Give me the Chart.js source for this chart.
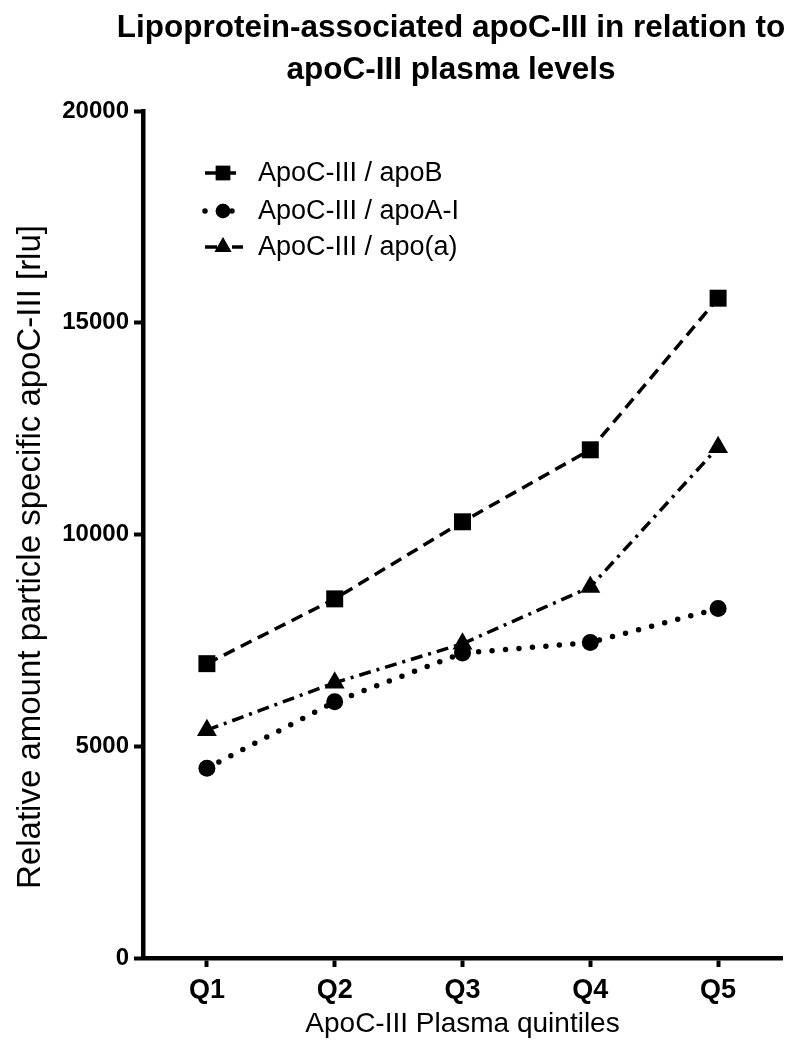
<!DOCTYPE html>
<html><head><meta charset="utf-8">
<script src="https://cdn.jsdelivr.net/npm/chart.js@4.4.0/dist/chart.umd.min.js"></script>
<style>html,body{margin:0;padding:0;background:#fff}#wrap{width:800px;height:1061px;position:relative}</style>
</head><body><div id="wrap"><canvas id="c"></canvas></div>
<script>
const categories = ['Q1', 'Q2', 'Q3', 'Q4', 'Q5'];
const apoB = [6950, 8480, 10300, 12000, 15580];
const apoAI = [4480, 6050, 7200, 7450, 8250];
const apoa = [5380, 6500, 7420, 8760, 12060];
const seriesNames = ['ApoC-III / apoB', 'ApoC-III / apoA-I', 'ApoC-III / apo(a)'];
const yTicks = [0, 5000, 10000, 15000, 20000];
const titleLines = ['Lipoprotein-associated apoC-III in relation to', 'apoC-III plasma levels'];
const xTitle = 'ApoC-III Plasma quintiles';
const yTitle = 'Relative amount particle specific apoC-III [rlu]';

const FAM = "'Liberation Sans', Arial, Helvetica, sans-serif";
Chart.defaults.font.family = FAM;
Chart.defaults.color = '#000';

const textPlugin = {
  id: 'texts',
  afterDraw(chart) {
    const ctx = chart.ctx;
    ctx.save();
    ctx.fillStyle = '#000';
    ctx.textAlign = 'center';
    ctx.textBaseline = 'middle';
    ctx.font = 'bold 31.5px ' + FAM;
    ctx.fillText(titleLines[0], 451, 28);
    ctx.fillText(titleLines[1], 451, 70);
    ctx.translate(31, 557);
    ctx.rotate(-Math.PI / 2);
    ctx.font = '33px ' + FAM;
    ctx.fillText(yTitle, 0, 0);
    ctx.restore();
  }
};

const legendPlugin = {
  id: 'lineLegend',
  afterDraw(chart) {
    const ctx = chart.ctx;
    const ca = chart.chartArea;
    const rows = [62, 100, 136];
    const x0 = ca.left + 62, x1 = ca.left + 100, xm = ca.left + 80, xt = ca.left + 115;
    chart.data.datasets.forEach((ds, i) => {
      const y = ca.top + rows[i];
      ctx.save();
      ctx.strokeStyle = ds.borderColor;
      ctx.lineWidth = ds.borderWidth;
      ctx.lineCap = ds.borderCapStyle || 'butt';
      ctx.setLineDash(ds.borderDash || []);
      ctx.beginPath(); ctx.moveTo(x0, y); ctx.lineTo(x1, y); ctx.stroke();
      ctx.setLineDash([]);
      Chart.helpers.drawPoint(ctx, {pointStyle: ds.pointStyle, radius: ds.pointRadius * 0.85, borderWidth: 0, rotation: 0}, xm, y);
      ctx.fillStyle = ds.backgroundColor;
      ctx.fill();
      ctx.fillStyle = '#000';
      ctx.font = '27px ' + FAM;
      ctx.textBaseline = 'middle';
      ctx.textAlign = 'left';
      ctx.fillText(ds.label, xt, y + 1);
      ctx.restore();
    });
  }
};

new Chart(document.getElementById('c'), {
  type: 'line',
  data: {
    labels: categories,
    datasets: [
      {label: seriesNames[0], data: apoB, borderColor: '#000', backgroundColor: '#000', borderWidth: 3.5,
       borderDash: [12, 7], pointStyle: 'rect', pointRadius: 12, pointBorderWidth: 0, tension: 0},
      {label: seriesNames[1], data: apoAI, borderColor: '#000', backgroundColor: '#000', borderWidth: 5.5,
       borderDash: [0, 13.5], borderCapStyle: 'round', pointStyle: 'circle', pointRadius: 8.5, pointBorderWidth: 0, tension: 0},
      {label: seriesNames[2], data: apoa, borderColor: '#000', backgroundColor: '#000', borderWidth: 3.5,
       borderDash: [12, 6, 3, 6], pointStyle: 'triangle', pointRadius: 11.5, pointBorderWidth: 0, tension: 0}
    ]
  },
  options: {
    responsive: true,
    maintainAspectRatio: false,
    animation: false,
    layout: {padding: {left: 0, right: 18, top: 111, bottom: 0}},
    plugins: {
      legend: {display: false},
      tooltip: {enabled: false},
      title: {display: false}
    },
    scales: {
      x: {
        type: 'category', offset: true,
        grid: {display: true, drawOnChartArea: false, drawTicks: true, tickLength: 9, tickWidth: 4, tickColor: '#000', offset: false},
        border: {display: true, width: 4.5, color: '#000'},
        ticks: {font: {size: 27, weight: 'bold'}, color: '#000', padding: 7, maxRotation: 0},
        title: {display: true, text: xTitle, font: {size: 28}, color: '#000', padding: {top: 0, bottom: 20}},
        afterFit(scale) { scale.height = 103; }
      },
      y: {
        min: 0, max: 20000,
        afterBuildTicks(scale) { scale.ticks = yTicks.map(v => ({value: v})); },
        grid: {display: true, drawOnChartArea: false, drawTicks: true, tickLength: 9, tickWidth: 4, tickColor: '#000'},
        border: {display: true, width: 4.5, color: '#000'},
        ticks: {font: {size: 24, weight: 'bold'}, color: '#000', padding: 5, callback: v => String(v)},
        title: {display: false},
        afterFit(scale) { scale.width = 143; }
      }
    }
  },
  plugins: [legendPlugin, textPlugin]
});
</script></body></html>
